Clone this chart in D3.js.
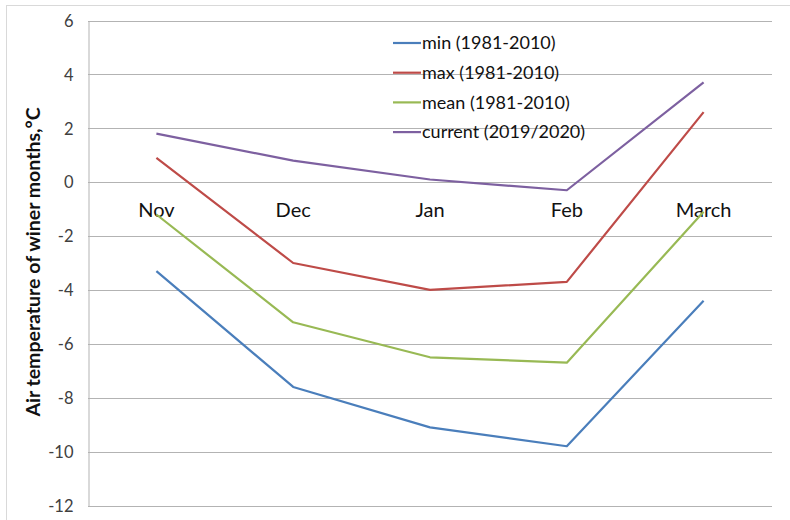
<!DOCTYPE html>
<html>
<head>
<meta charset="utf-8">
<script src="https://cdn.jsdelivr.net/npm/d3@7"></script>
<style>
  html, body { margin: 0; padding: 0; background: #fff; }
  svg { display: block; }
  text { font-family: Lato, "Open Sans", sans-serif; }
</style>
</head>
<body>
<svg id="chart" width="790" height="520"></svg>
<script>
// Monthly air temperature, °C
const months = ["Nov", "Dec", "Jan", "Feb", "March"];
const minValues = [-3.3, -7.6, -9.1, -9.8, -4.4];
const maxValues = [0.9, -3.0, -4.0, -3.7, 2.6];
const meanValues = [-1.2, -5.2, -6.5, -6.7, -1.1];
const currentValues = [1.8, 0.8, 0.1, -0.3, 3.7];
const seriesNames = ["min (1981-2010)", "max (1981-2010)", "mean (1981-2010)", "current (2019/2020)"];
const yTicks = [-12, -10, -8, -6, -4, -2, 0, 2, 4, 6];
const yLabel = "Air temperature of winer months,°C";

const series = [
  { name: seriesNames[0], values: minValues, color: "#4A7EBB" },
  { name: seriesNames[1], values: maxValues, color: "#BE4B48" },
  { name: seriesNames[2], values: meanValues, color: "#98B954" },
  { name: seriesNames[3], values: currentValues, color: "#7D60A0" }
];

const svg = d3.select("#chart");
const plot = { left: 88, right: 772, top: 20.5, bottom: 505.5 };

// outer chart frame
svg.append("rect")
  .attr("x", 6.5).attr("y", 5.5)
  .attr("width", 800).attr("height", 520)
  .attr("fill", "none").attr("stroke", "#d9d9d9").attr("stroke-width", 1);

const x = d3.scaleBand().domain(months).range([plot.left, plot.right]);
const y = d3.scaleLinear().domain([-12, 6]).range([plot.bottom, plot.top]);

// horizontal gridlines
svg.append("g")
  .selectAll("line")
  .data(yTicks)
  .join("line")
  .attr("x1", plot.left).attr("x2", plot.right)
  .attr("y1", d => Math.round(y(d)) + 0.5).attr("y2", d => Math.round(y(d)) + 0.5)
  .attr("stroke", "#b3b3b3").attr("stroke-width", 1);

// value axis (hyphen-minus labels)
const yAxis = svg.append("g")
  .attr("transform", `translate(${plot.left + 0.5},0)`)
  .call(d3.axisLeft(y).tickValues(yTicks).tickSize(0).tickPadding(15).tickFormat(d => String(d)));
yAxis.select(".domain").attr("stroke", "#b3b3b3");
yAxis.selectAll("text")
  .attr("font-size", 16.5)
  .attr("fill", "#404040")
  .style("font-family", "Lato, sans-serif")
  .attr("dy", "0.35em");

// category labels sit below the zero line
svg.append("g")
  .selectAll("text")
  .data(months)
  .join("text")
  .attr("x", d => x(d) + x.bandwidth() / 2)
  .attr("y", y(0) + 35)
  .attr("text-anchor", "middle")
  .attr("font-size", 20)
  .attr("fill", "#111")
  .text(d => d);

// series lines
const line = d3.line()
  .x((d, i) => x(months[i]) + x.bandwidth() / 2)
  .y(d => y(d));

svg.append("g")
  .selectAll("path")
  .data(series)
  .join("path")
  .attr("d", d => line(d.values))
  .attr("fill", "none")
  .attr("stroke", d => d.color)
  .attr("stroke-width", 2.2)
  .attr("stroke-linejoin", "round");

// y-axis title
svg.append("text")
  .attr("transform", `translate(40,${(plot.top + plot.bottom) / 2 - 1}) rotate(-90)`)
  .attr("text-anchor", "middle")
  .attr("font-size", 19.5)
  .attr("font-weight", "bold")
  .attr("fill", "#111")
  .text(yLabel);

// legend
const legend = svg.append("g").attr("transform", "translate(393,43)");
const rows = legend.selectAll("g")
  .data(series)
  .join("g")
  .attr("transform", (d, i) => `translate(0,${i * 29.7})`);
rows.append("line")
  .attr("x1", 0).attr("x2", 28)
  .attr("y1", 0).attr("y2", 0)
  .attr("stroke", d => d.color)
  .attr("stroke-width", 2.2);
rows.append("text")
  .attr("x", 29)
  .attr("y", 0)
  .attr("dy", "0.35em")
  .attr("font-size", 18)
  .attr("fill", "#111")
  .text(d => d.name);
</script>
</body>
</html>
